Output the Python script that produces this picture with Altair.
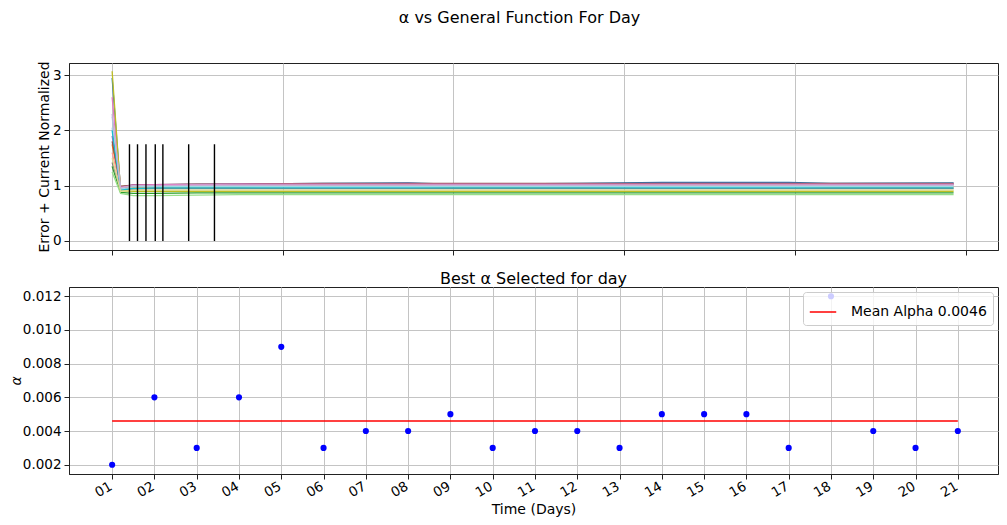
import altair as alt
import pandas as pd

# ---------------- data ----------------
X = [1.0, 1.2, 1.5, 2.0, 3.0, 4.0, 6.0, 8.0, 9.0, 12.0, 14.0, 17.0, 18.0, 20.9]

SERIES_NAMES = ["s01", "s02", "s03", "s04", "s05", "s06", "s07", "s08",
                "s09", "s10", "s11", "s12", "s13", "s14", "s15"]
SERIES_COLORS = ["#1f77b4", "#aec7e8", "#ff7f0e", "#2ca02c", "#98df8a",
                 "#ff9896", "#9467bd", "#8c564b", "#e377c2", "#7f7f7f",
                 "#bcbd22", "#17becf", "#9edae5", "#dbdb8d", "#c5b0d5"]
S01 = [2.95, 0.92, 1.00, 1.01, 1.02, 1.03, 1.04, 1.05, 1.03, 1.04, 1.06, 1.06, 1.04, 1.05]
S02 = [2.05, 0.95, 0.98, 0.99, 1.00, 1.00, 1.01, 1.01, 1.00, 1.00, 1.01, 1.01, 1.00, 1.00]
S03 = [1.75, 0.97, 0.97, 0.98, 0.98, 0.98, 0.99, 0.99, 0.98, 0.98, 0.99, 0.99, 0.98, 0.98]
S04 = [1.35, 0.88, 0.86, 0.86, 0.87, 0.87, 0.87, 0.87, 0.87, 0.87, 0.87, 0.87, 0.87, 0.87]
S05 = [1.25, 0.86, 0.82, 0.82, 0.83, 0.84, 0.84, 0.84, 0.84, 0.84, 0.84, 0.84, 0.84, 0.84]
S06 = [1.60, 0.98, 1.00, 1.01, 1.01, 1.02, 1.02, 1.02, 1.02, 1.02, 1.02, 1.02, 1.02, 1.02]
S07 = [1.90, 0.96, 1.02, 1.02, 1.03, 1.03, 1.03, 1.04, 1.03, 1.03, 1.04, 1.04, 1.03, 1.03]
S08 = [1.80, 0.99, 1.01, 1.02, 1.03, 1.03, 1.04, 1.04, 1.04, 1.04, 1.04, 1.04, 1.04, 1.04]
S09 = [2.60, 0.97, 1.01, 1.02, 1.02, 1.03, 1.03, 1.03, 1.03, 1.03, 1.03, 1.03, 1.03, 1.03]
S10 = [1.42, 0.93, 0.94, 0.95, 0.95, 0.95, 0.95, 0.95, 0.95, 0.95, 0.95, 0.95, 0.95, 0.95]
S11 = [3.07, 0.91, 0.90, 0.90, 0.90, 0.90, 0.90, 0.90, 0.90, 0.90, 0.90, 0.90, 0.90, 0.90]
S12 = [2.00, 0.92, 0.95, 0.96, 0.96, 0.96, 0.96, 0.96, 0.96, 0.96, 0.96, 0.96, 0.96, 0.96]
S13 = [2.25, 0.94, 0.98, 0.99, 0.99, 0.99, 0.99, 0.99, 0.99, 0.99, 0.99, 0.99, 0.99, 0.99]
S14 = [1.50, 0.90, 0.92, 0.92, 0.92, 0.92, 0.92, 0.92, 0.92, 0.92, 0.92, 0.92, 0.92, 0.92]
S15 = [2.30, 0.96, 1.00, 1.00, 1.01, 1.01, 1.01, 1.01, 1.01, 1.01, 1.01, 1.01, 1.01, 1.01]
SERIES_VALUES = [S01, S02, S03, S04, S05, S06, S07, S08, S09, S10, S11, S12, S13, S14, S15]

BAR_X = [1.41, 1.60, 1.80, 2.02, 2.20, 2.81, 3.42]
BAR_LOW = [0.0] * 7
BAR_HIGH = [1.75] * 7

TOP_TICKS = [1, 5.04, 9.07, 13.11, 17.15, 21.19]
TOP_Y_TICKS = [0, 1, 2, 3]

DAYS = list(range(1, 22))
ALPHA = [0.002, 0.006, 0.003, 0.006, 0.009, 0.003, 0.004, 0.004, 0.005, 0.003,
         0.004, 0.004, 0.003, 0.005, 0.005, 0.005, 0.003, 0.012, 0.004, 0.003, 0.004]
MEAN_ALPHA = 0.0046
MEAN_LABEL = "Mean Alpha 0.0046"
BOTTOM_Y_TICKS = [0.002, 0.004, 0.006, 0.008, 0.010, 0.012]

# ---------------- tables ----------------
rows = []
for i, (name, col, vals) in enumerate(zip(SERIES_NAMES, SERIES_COLORS, SERIES_VALUES)):
    for x, v in zip(X, vals):
        rows.append({"series": name, "color": col, "order": i, "x": x, "v": v})
lines_df = pd.DataFrame(rows)
bars_df = pd.DataFrame({"x": BAR_X, "v": BAR_LOW, "hi": BAR_HIGH})
alpha_df = pd.DataFrame({"day": DAYS, "alpha": ALPHA})
mean_df = pd.DataFrame({"day": [DAYS[0], DAYS[-1]], "alpha": [MEAN_ALPHA, MEAN_ALPHA],
                        "label": [MEAN_LABEL, MEAN_LABEL]})

FONT = "DejaVu Sans"
XDOM = [-0.02, 21.95]
W, H = 929, 187

x_top = alt.X("x:Q", scale=alt.Scale(domain=XDOM, nice=False, zero=False),
              axis=alt.Axis(values=TOP_TICKS, labels=False, title=None))
y_top = alt.Y("v:Q", scale=alt.Scale(domain=[-0.163, 3.22], nice=False, zero=False),
              axis=alt.Axis(values=TOP_Y_TICKS, format="d", labelOverlap=False,
                            title="Error + Current Normalized",
                            titleX=-25, titleBaseline="middle", titleAngle=270))

lines = alt.Chart(lines_df).mark_line(strokeWidth=1.3).encode(
    x=x_top, y=y_top,
    color=alt.Color("color:N", scale=None),
    detail="series:N",
    order="x:Q",
)
bars = alt.Chart(bars_df).mark_rule(color="black", strokeWidth=1.4).encode(
    x=x_top, y=y_top, y2="hi:Q"
)
top = alt.layer(lines, bars).properties(width=W, height=H)

x_bot = alt.X("day:Q", scale=alt.Scale(domain=XDOM, nice=False, zero=False),
              axis=alt.Axis(values=DAYS, title="Time (Days)", labelOverlap=False,
                            labelExpr="datum.value < 10 ? '0' + datum.value : '' + datum.value",
                            labelAngle=330, labelAlign="right", labelBaseline="top",
                            labelPadding=0, labelOffset=-5, titlePadding=3))
y_bot = alt.Y("alpha:Q", scale=alt.Scale(domain=[0.00145, 0.01255], nice=False, zero=False),
              axis=alt.Axis(values=BOTTOM_Y_TICKS, format=".3f", title="α",
                            labelOverlap=False,
                            titleX=-53, titleBaseline="middle", titleAngle=270,
                            titleFontStyle="italic"))

points = alt.Chart(alpha_df).mark_circle(color="blue", size=38, opacity=1).encode(
    x=x_bot, y=y_bot
)
mean_line = alt.Chart(mean_df).mark_line(strokeWidth=1.5).encode(
    x=x_bot, y=y_bot,
    color=alt.Color("label:N", scale=alt.Scale(domain=[MEAN_LABEL], range=["red"]),
                    legend=alt.Legend(title=None, orient="top-right", offset=5,
                                      symbolType="stroke", symbolSize=700,
                                      symbolStrokeWidth=1.5, labelFontSize=14,
                                      labelFont=FONT, labelOffset=14, padding=6,
                                      fillColor="rgba(255,255,255,0.8)",
                                      strokeColor="#cccccc", cornerRadius=3)),
)
bottom = alt.layer(points, mean_line).properties(
    width=W, height=H,
    title=alt.TitleParams("Best α Selected for day", fontSize=16, font=FONT,
                          fontWeight="normal", offset=0),
)

chart = alt.vconcat(top, bottom, spacing=37, bounds="flush").resolve_scale(
    color="independent"
).properties(
    title=alt.TitleParams("α vs General Function For Day", fontSize=16, font=FONT,
                          fontWeight="normal", anchor="middle", offset=34, dx=16),
    padding={"top": 2, "left": 0, "right": 0, "bottom": 0},
).configure_view(stroke="#222222", strokeWidth=1).configure_axis(
    labelFont=FONT, titleFont=FONT, labelFontSize=13.5, titleFontSize=14,
    titleFontWeight="normal", labelColor="black", titleColor="black",
    domainColor="#222222", tickColor="#222222", tickSize=5, labelPadding=3,
    gridColor="#c4c4c4", gridWidth=1,
)

chart.save("out.html", embed_options={"renderer": "svg", "actions": False})
